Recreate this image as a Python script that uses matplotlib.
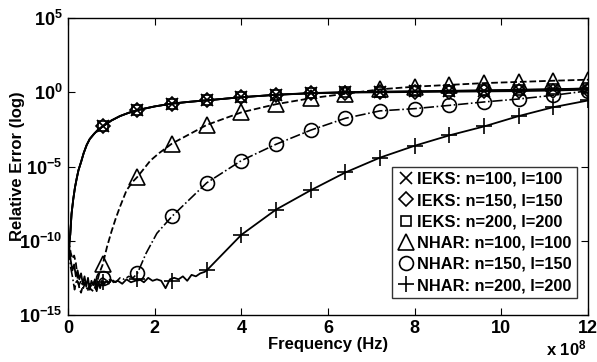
import numpy as np
import matplotlib
matplotlib.use("Agg")
import matplotlib.pyplot as plt
from matplotlib.lines import Line2D

plt.rcParams['font.family'] = 'Liberation Sans'
plt.rcParams['font.weight'] = 'bold'
plt.rcParams['mathtext.fontset'] = 'custom'
plt.rcParams['mathtext.rm'] = 'Liberation Sans:bold'
plt.rcParams['mathtext.bf'] = 'Liberation Sans:bold'
plt.rcParams['mathtext.default'] = 'bf'

# frequencies in units of 1e8 Hz, errors as log10(relative error)
marker_freq = [0.8, 1.6, 2.4, 3.2, 4.0, 4.8, 5.6, 6.4, 7.2, 8.0, 8.8, 9.6, 10.4, 11.2, 12.0]

# IEKS curves (all three nearly on top of each other)
ieks_freq = [0.02, 0.05, 0.08, 0.12, 0.16, 0.2, 0.24, 0.3, 0.36, 0.43, 0.5, 0.6, 0.7, 0.8,
             1.0, 1.2, 1.4, 1.6, 2.0, 2.4, 2.8, 3.2, 4.0, 4.8, 5.6, 6.4, 7.2, 8.0, 8.8,
             9.6, 10.4, 11.2, 12.0]
ieks100 = [-10.4, -9.6, -8.2, -7.2, -6.4, -5.8, -5.25, -4.7, -4.1, -3.55, -3.15, -2.8, -2.5, -2.3,
           -1.9, -1.6, -1.38, -1.2, -0.95, -0.76, -0.64, -0.54, -0.33, -0.17, -0.06, 0.0, 0.03,
           0.06, 0.09, 0.12, 0.16, 0.2, 0.25]
ieks150 = [-10.4, -9.6, -8.2, -7.2, -6.4, -5.8, -5.25, -4.7, -4.1, -3.55, -3.15, -2.8, -2.5, -2.3,
           -1.9, -1.6, -1.38, -1.2, -0.95, -0.76, -0.64, -0.54, -0.33, -0.17, -0.07, -0.02, 0.0,
           0.02, 0.04, 0.06, 0.08, 0.12, 0.18]
ieks200 = [-10.4, -9.6, -8.2, -7.2, -6.4, -5.8, -5.25, -4.7, -4.1, -3.55, -3.15, -2.8, -2.5, -2.3,
           -1.9, -1.6, -1.38, -1.2, -0.95, -0.76, -0.64, -0.54, -0.33, -0.16, -0.05, 0.01, 0.04,
           0.07, 0.1, 0.13, 0.17, 0.21, 0.26]
ieks100_mk = [-2.3, -1.2, -0.76, -0.54, -0.33, -0.17, -0.06, 0.0, 0.03, 0.06, 0.09, 0.12, 0.16, 0.2, 0.25]
ieks150_mk = [-2.3, -1.2, -0.76, -0.54, -0.33, -0.17, -0.07, -0.02, 0.0, 0.02, 0.04, 0.06, 0.08, 0.12, 0.18]
ieks200_mk = [-2.3, -1.2, -0.76, -0.54, -0.33, -0.16, -0.05, 0.01, 0.04, 0.07, 0.1, 0.13, 0.17, 0.21, 0.26]

# NHAR n=100 (dashed, triangles)
nhar100_freq = [0.02, 0.06, 0.1, 0.14, 0.18, 0.22, 0.26, 0.3, 0.36, 0.42, 0.5, 0.58, 0.66, 0.72,
                0.8, 0.9, 1.0, 1.1, 1.2, 1.35, 1.5, 1.6, 1.9, 2.1, 2.4, 3.2, 4.0, 4.8, 5.6, 6.4,
                7.2, 8.0, 8.8, 9.6, 10.4, 11.2, 12.0]
nhar100 = [-10.0, -10.8, -11.2, -11.0, -11.5, -12.5, -13.2, -13.5, -12.8, -13.0, -13.2, -13.4,
           -12.9, -12.2, -11.6, -10.4, -9.4, -8.5, -7.7, -6.6, -6.0, -5.7, -4.6, -4.1, -3.45,
           -2.2, -1.35, -0.8, -0.4, -0.1, 0.2, 0.38, 0.5, 0.62, 0.7, 0.78, 0.85]
nhar100_mk = [-11.6, -5.7, -3.45, -2.2, -1.35, -0.8, -0.4, -0.1, 0.2, 0.38, 0.5, 0.62, 0.7, 0.78, 0.85]

# NHAR n=150 (dash-dot, circles)
nhar150_freq = [0.02, 0.06, 0.1, 0.15, 0.2, 0.25, 0.3, 0.35, 0.4, 0.45, 0.5, 0.55, 0.6, 0.65, 0.7,
                0.75, 0.8, 0.9, 1.0, 1.1, 1.2, 1.3, 1.4, 1.5, 1.6, 1.8, 2.05, 2.4, 3.2, 4.0, 4.8,
                5.6, 6.4, 7.2, 8.0, 8.8, 9.6, 10.4, 11.2, 12.0]
nhar150 = [-10.6, -11.8, -12.4, -13.3, -12.6, -13.0, -12.7, -13.2, -12.8, -13.4, -12.9, -13.1,
           -12.7, -13.3, -12.8, -12.6, -12.5, -12.7, -12.6, -12.8, -12.5, -12.6, -12.4, -12.5,
           -12.2, -10.85, -9.5, -8.35, -6.1, -4.6, -3.5, -2.55, -1.75, -1.25, -1.1, -0.88,
           -0.65, -0.45, -0.2, 0.1]
nhar150_mk = [-12.5, -12.2, -8.35, -6.1, -4.6, -3.5, -2.55, -1.75, -1.25, -1.1, -0.88, -0.65, -0.45, -0.2, 0.1]

# NHAR n=200 (solid, plus)
nhar200_freq = [0.02, 0.06, 0.1, 0.14, 0.18, 0.22, 0.26, 0.3, 0.34, 0.38, 0.42, 0.46, 0.5, 0.54,
                0.58, 0.62, 0.66, 0.7, 0.74, 0.78, 0.82, 0.86, 0.9, 0.94, 0.98, 1.05, 1.15, 1.25,
                1.35, 1.45, 1.55, 1.65, 1.75, 1.85, 1.95, 2.05, 2.15, 2.25, 2.35, 2.45, 2.55,
                2.65, 2.75, 2.85, 2.95, 3.05, 3.15, 3.2, 4.0, 4.8, 5.6, 6.4, 7.2, 8.0, 8.8, 9.6,
                10.4, 11.2, 12.0]
nhar200 = [-10.2, -11.3, -12.0, -11.6, -12.4, -12.0, -12.6, -12.2, -12.9, -12.4, -13.1, -12.5,
           -13.3, -12.7, -13.0, -12.6, -13.4, -12.8, -13.2, -12.7, -13.0, -12.8, -12.7, -12.9,
           -12.6, -12.8, -12.7, -12.9, -12.6, -12.8, -12.7, -12.6, -12.8, -12.5, -12.7, -12.6,
           -12.7, -13.2, -12.6, -12.5, -12.6, -12.4, -12.7, -12.3, -12.4, -12.2, -12.1, -12.0,
           -9.6, -7.9, -6.6, -5.4, -4.4, -3.6, -2.9, -2.3, -1.6, -1.0, -0.55]
nhar200_mk = [-12.8, -12.6, -12.7, -12.0, -9.6, -7.9, -6.6, -5.4, -4.4, -3.6, -2.9, -2.3, -1.6, -1.0, -0.55]

labels = ['IEKS: n=100, l=100', 'IEKS: n=150, l=150', 'IEKS: n=200, l=200',
          'NHAR: n=100, l=100', 'NHAR: n=150, l=150', 'NHAR: n=200, l=200']


def pw(v):
    return 10.0 ** np.array(v)


def fx(v):
    return np.array(v) * 1e8


fig = plt.figure(figsize=(5.97, 3.62), dpi=100)
ax = fig.add_axes([0.114, 0.130, 0.871, 0.820])

lw = 1.3
ax.semilogy(fx(ieks_freq), pw(ieks100), 'k-', lw=lw)
ax.semilogy(fx(ieks_freq), pw(ieks150), 'k-', lw=lw)
ax.semilogy(fx(ieks_freq), pw(ieks200), 'k-', lw=lw)
ax.semilogy(fx(nhar100_freq), pw(nhar100), 'k--', lw=lw)
ax.semilogy(fx(nhar150_freq), pw(nhar150), 'k-.', lw=lw * 0.9)
ax.semilogy(fx(nhar200_freq), pw(nhar200), 'k-', lw=lw)

mk_style = [('x', 8, ieks100_mk), ('D', 7.5, ieks150_mk), ('s', 7.5, ieks200_mk),
            ('^', 11, nhar100_mk), ('o', 10, nhar150_mk), ('+', 11, nhar200_mk)]
handles = []
for (m, ms, vals), lab in zip(mk_style, labels):
    ax.semilogy(fx(marker_freq), pw(vals), linestyle='none', marker=m, ms=ms,
                mfc='none', mec='k', mew=1.2)
    handles.append(Line2D([], [], linestyle='none', marker=m, ms=ms,
                          mfc='none', mec='k', mew=1.2, label=lab))

ax.set_xlim(0, 12e8)
ax.set_ylim(1e-15, 1e5)
ax.set_yticks([1e-15, 1e-10, 1e-5, 1e0, 1e5])
ax.set_yticklabels([r'$10^{-15}$', r'$10^{-10}$', r'$10^{-5}$', r'$10^{0}$', r'$10^{5}$'])
ax.minorticks_off()
ax.set_xticks([i * 2e8 for i in range(7)])
ax.set_xticklabels([str(i * 2) for i in range(7)])
ax.tick_params(direction='in', top=True, right=True, labelsize=13, length=5, width=0.8, pad=4)
for lab in ax.get_xticklabels() + ax.get_yticklabels():
    lab.set_fontweight('bold')
for s in ax.spines.values():
    s.set_linewidth(1.0)

ax.set_xlabel('Frequency (Hz)', fontsize=12, fontweight='bold', labelpad=0)
ax.set_ylabel('Relative Error (log)', fontsize=12, fontweight='bold')
ax.yaxis.set_label_coords(-0.083, 0.5)
fig.text(0.915, 0.018, r'x $10^{8}$', fontsize=12, fontweight='bold')

leg = ax.legend(handles=handles, loc='lower right', bbox_to_anchor=(0.978, 0.057),
                fontsize=11.8, handlelength=1.0, handletextpad=0.2, borderpad=0.3,
                labelspacing=0.38, frameon=True, fancybox=False, edgecolor='k', borderaxespad=0)
leg.get_frame().set_linewidth(1.0)
for t in leg.get_texts():
    t.set_fontweight('bold')

fig.savefig('out.png', dpi=100)
